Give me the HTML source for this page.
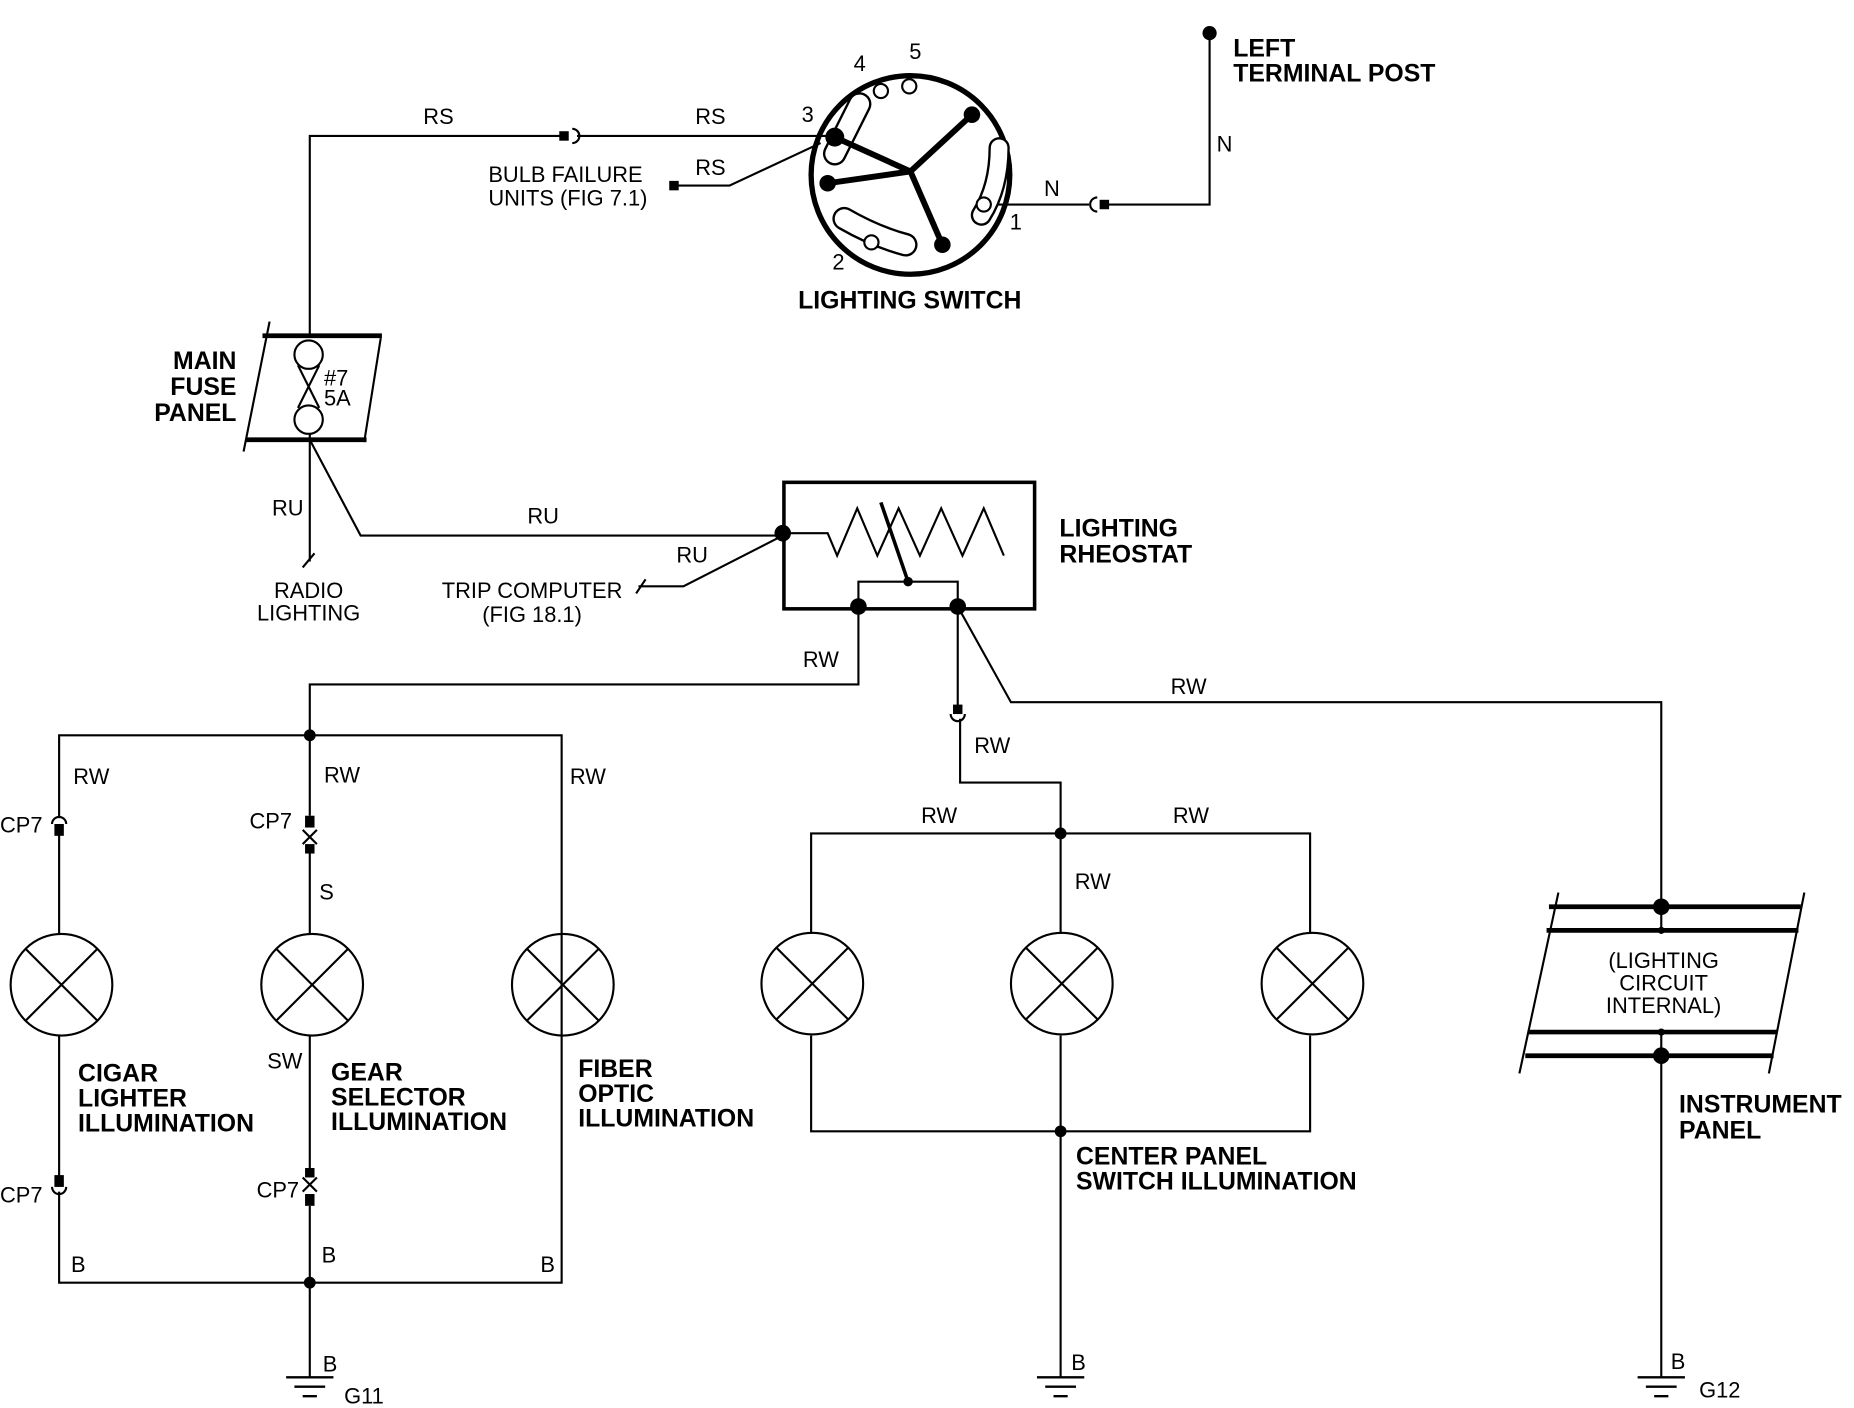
<!DOCTYPE html>
<html><head><meta charset="utf-8"><style>
html,body{margin:0;padding:0;background:#fff}
svg{display:block}
text{font-family:"Liberation Sans",Arial,sans-serif;fill:#000}
.l{font-size:18.5px}
.b{font-size:21px;font-weight:bold}
</style></head><body>
<svg width="1854" height="1408" viewBox="0 0 1568 1191" preserveAspectRatio="none" xmlns="http://www.w3.org/2000/svg">
<g fill="none" stroke="#000" stroke-width="1.8">
<!-- top RS wire -->
<polyline points="262,283 262,115 478,115"/>
<path d="M484,109 a6,6 0 0 1 0,12"/>
<line x1="488" y1="115" x2="700" y2="115"/>
<polyline points="572,157 617,157 694,121"/>
<!-- N wire -->
<polyline points="833,173 921,173"/>
<path d="M928,167 a6,6 0 0 0 0,12"/>
<polyline points="934,173 1023,173 1023,28"/>
<!-- switch -->
<circle cx="770" cy="148" r="84" stroke-width="4.5"/>
<circle cx="745" cy="77" r="6"/><circle cx="769" cy="73" r="6"/>
<g stroke-linecap="round">
<line x1="727" y1="88" x2="706" y2="130" stroke-width="20"/>
<line x1="727" y1="88" x2="706" y2="130" stroke-width="16" stroke="#fff"/>
<path d="M845,125 Q845,158 830,182" stroke-width="18"/>
<path d="M845,125 Q845,158 830,182" stroke-width="14" stroke="#fff"/>
<path d="M714,185 Q740,200 766,207" stroke-width="20"/>
<path d="M714,185 Q740,200 766,207" stroke-width="16" stroke="#fff"/>
</g>
<circle cx="737" cy="205" r="6" fill="#fff"/>
<circle cx="832" cy="173" r="6" fill="#fff"/>
<g stroke-width="5"><line x1="770" y1="145" x2="706" y2="116"/><line x1="770" y1="145" x2="700" y2="155"/><line x1="770" y1="145" x2="822" y2="97"/><line x1="770" y1="145" x2="797" y2="207"/></g>
<!-- fuse panel -->
<line x1="222" y1="284" x2="323" y2="284" stroke-width="4"/>
<line x1="208" y1="372" x2="310" y2="372" stroke-width="4"/>
<line x1="228" y1="272" x2="206" y2="382"/><line x1="322" y1="286" x2="308" y2="374"/>
<circle cx="261" cy="300" r="12"/><circle cx="261" cy="355" r="12"/>
<path d="M252,309 L270,345 M270,309 L252,345"/>
<!-- RU -->
<polyline points="262,367 262,475"/><line x1="256" y1="480" x2="266" y2="468"/>
<polyline points="262,372 305,453 662,453"/>
<polyline points="538,502 546,490"/><polyline points="540,496 578,496 662,453"/>
<!-- rheostat -->
<rect x="663" y="408" width="212" height="107" stroke-width="3"/>
<polyline points="662,451 700,451 708,470 725,430 742,470 760,430 778,470 796,430 814,470 832,430 849,470"/>
<line x1="745" y1="425" x2="768" y2="492" stroke-width="3"/>
<polyline points="726,513 726,492 810,492 810,513"/>
<!-- left bus -->
<polyline points="726,513 726,579 262,579 262,622"/>
<polyline points="50,692 50,622 475,622 475,1085 50,1085 50,1008"/>
<line x1="50" y1="700" x2="50" y2="790"/><line x1="50" y1="876" x2="50" y2="998"/>
<line x1="262" y1="622" x2="262" y2="690"/><line x1="262" y1="716" x2="262" y2="790"/>
<line x1="262" y1="876" x2="262" y2="988"/><line x1="262" y1="1020" x2="262" y2="1165"/>
<path d="M44,697 a6,6 0 0 1 12,0"/><path d="M44,1004 a6,6 0 0 0 12,0"/>
<path d="M256,702 l12,12 M268,702 l-12,12"/><path d="M256,996 l12,12 M268,996 l-12,12"/>
<circle cx="52" cy="833" r="43"/><path d="M22,803 L82,863 M82,803 L22,863"/>
<circle cx="264" cy="833" r="43"/><path d="M234,803 L294,863 M294,803 L234,863"/>
<circle cx="476" cy="833" r="43"/><path d="M446,803 L506,863 M506,803 L446,863"/>
<!-- right side -->
<polyline points="810,513 810,598"/>
<path d="M804,604 a6,6 0 0 0 12,0"/>
<polyline points="812,608 812,662 897,662 897,705"/>
<polyline points="810,513 855,594 1405,594 1405,767"/>
<polyline points="686,790 686,705 1108,705 1108,790"/>
<line x1="897" y1="705" x2="897" y2="790"/>
<polyline points="686,876 686,957 1108,957 1108,876"/>
<line x1="897" y1="876" x2="897" y2="1165"/>
<circle cx="687" cy="832" r="43"/><path d="M657,802 L717,862 M717,802 L657,862"/>
<circle cx="898" cy="832" r="43"/><path d="M868,802 L928,862 M928,802 L868,862"/>
<circle cx="1110" cy="832" r="43"/><path d="M1080,802 L1140,862 M1140,802 L1080,862"/>
<!-- instrument panel -->
<g stroke-width="4"><line x1="1310" y1="767" x2="1523" y2="767"/><line x1="1308" y1="787" x2="1521" y2="787"/><line x1="1292" y1="873" x2="1503" y2="873"/><line x1="1290" y1="893" x2="1500" y2="893"/></g>
<line x1="1318" y1="755" x2="1285" y2="908"/><line x1="1526" y1="755" x2="1496" y2="908"/>
<line x1="1405" y1="767" x2="1405" y2="787"/><line x1="1405" y1="873" x2="1405" y2="1165"/>
<!-- grounds -->
<g stroke-width="2">
<path d="M242,1165 h40 M249,1173 h26 M256,1181 h12"/>
<path d="M877,1165 h40 M884,1173 h26 M891,1181 h12"/>
<path d="M1385,1165 h40 M1392,1173 h26 M1399,1181 h12"/>
</g>
</g>
<g fill="#000">
<circle cx="1023" cy="28" r="6"/>
<rect x="473" y="111" width="8" height="8"/><rect x="566" y="153" width="8" height="8"/><rect x="930" y="169" width="8" height="8"/>
<circle cx="706" cy="116" r="8"/><circle cx="700" cy="155" r="7"/><circle cx="822" cy="97" r="7"/><circle cx="797" cy="207" r="7"/>
<circle cx="662" cy="451" r="7"/><circle cx="726" cy="513" r="7"/><circle cx="810" cy="513" r="7"/><circle cx="768" cy="492" r="4"/>
<circle cx="262" cy="622" r="5"/><circle cx="262" cy="1085" r="5"/>
<circle cx="897" cy="705" r="5"/><circle cx="897" cy="957" r="5"/>
<circle cx="1405" cy="767" r="7"/><circle cx="1405" cy="893" r="7"/><circle cx="1405" cy="787" r="3"/><circle cx="1405" cy="873" r="3"/>
<rect x="46" y="697" width="8" height="10"/><rect x="46" y="994" width="8" height="10"/>
<rect x="258" y="690" width="8" height="10"/><rect x="258" y="714" width="8" height="8"/>
<rect x="258" y="988" width="8" height="8"/><rect x="258" y="1010" width="8" height="10"/>
<rect x="806" y="596" width="8" height="8"/>
</g>
<g class="l">
<text x="358" y="105">RS</text><text x="588" y="105">RS</text><text x="588" y="148">RS</text>
<text x="413" y="154">BULB FAILURE</text><text x="413" y="174">UNITS (FIG 7.1)</text>
<text x="722" y="60">4</text><text x="769" y="50">5</text><text x="678" y="103">3</text><text x="704" y="228">2</text><text x="854" y="194">1</text>
<text x="883" y="166">N</text><text x="1029" y="128">N</text>
<text x="230" y="436">RU</text><text x="446" y="443">RU</text><text x="572" y="476">RU</text>
<text x="261" y="506" text-anchor="middle">RADIO</text><text x="261" y="525" text-anchor="middle">LIGHTING</text>
<text x="450" y="506" text-anchor="middle">TRIP COMPUTER</text><text x="450" y="526" text-anchor="middle">(FIG 18.1)</text>
<text x="679" y="564">RW</text><text x="62" y="663">RW</text><text x="274" y="662">RW</text><text x="482" y="663">RW</text>
<text x="0" y="704">CP7</text><text x="211" y="701">CP7</text><text x="270" y="761">S</text><text x="226" y="904">SW</text>
<text x="0" y="1017">CP7</text><text x="217" y="1013">CP7</text>
<text x="60" y="1076">B</text><text x="272" y="1068">B</text><text x="457" y="1076">B</text><text x="273" y="1160">B</text><text x="291" y="1187">G11</text>
<text x="990" y="587">RW</text><text x="824" y="637">RW</text><text x="779" y="696">RW</text><text x="992" y="696">RW</text><text x="909" y="752">RW</text>
<text x="906" y="1159">B</text><text x="1413" y="1158">B</text><text x="1437" y="1182">G12</text>
<text x="1407" y="819" text-anchor="middle">(LIGHTING</text><text x="1407" y="838" text-anchor="middle">CIRCUIT</text><text x="1407" y="857" text-anchor="middle">INTERNAL)</text>
<text x="274" y="326">#7</text><text x="274" y="343">5A</text>
</g>
<g class="b">
<text x="1043" y="48">LEFT</text><text x="1043" y="69">TERMINAL POST</text>
<text x="675" y="261">LIGHTING SWITCH</text>
<text x="200" y="312" text-anchor="end">MAIN</text><text x="200" y="334" text-anchor="end">FUSE</text><text x="200" y="356" text-anchor="end">PANEL</text>
<text x="896" y="454">LIGHTING</text><text x="896" y="476">RHEOSTAT</text>
<text x="66" y="915">CIGAR</text><text x="66" y="936">LIGHTER</text><text x="66" y="957">ILLUMINATION</text>
<text x="280" y="914">GEAR</text><text x="280" y="935">SELECTOR</text><text x="280" y="956">ILLUMINATION</text>
<text x="489" y="911">FIBER</text><text x="489" y="932">OPTIC</text><text x="489" y="953">ILLUMINATION</text>
<text x="910" y="985">CENTER PANEL</text><text x="910" y="1006">SWITCH  ILLUMINATION</text>
<text x="1420" y="941">INSTRUMENT</text><text x="1420" y="963">PANEL</text>
</g>
</svg>
</body></html>
